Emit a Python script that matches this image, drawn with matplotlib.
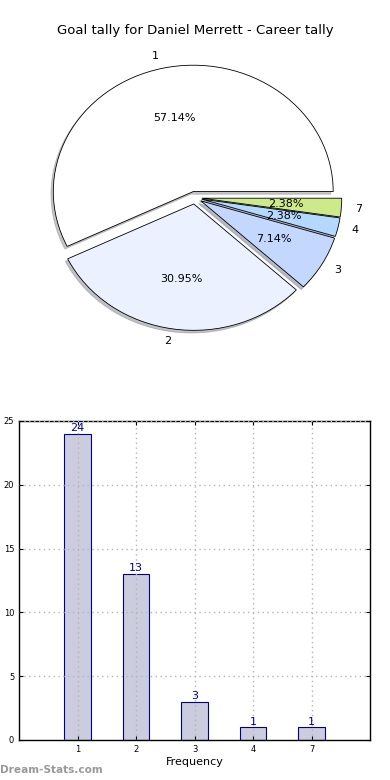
import matplotlib
matplotlib.use('Agg')
import matplotlib.pyplot as plt

# Goal tally data
categories = ['1', '2', '3', '4', '7']
counts = [24, 13, 3, 1, 1]
pie_colors = ['#ffffff', '#ebf1ff', '#c4d8ff', '#b4d8ff', '#cdea8a']

fig = plt.figure(figsize=(3.9, 7.8), dpi=100)

# Pie chart
ax1 = fig.add_axes([0.051, 0.544, 0.897, 0.405])
wedges, texts, autotexts = ax1.pie(
    counts,
    labels=categories,
    colors=pie_colors,
    explode=[0.05] * len(counts),
    autopct='%.2f%%',
    shadow={'ox': -0.012, 'oy': -0.015, 'shade': 0.45},
    startangle=0,
    wedgeprops={'edgecolor': 'black', 'linewidth': 0.6},
    textprops={'fontsize': 8},
)
ax1.set_aspect('auto')
ax1.set_xlim(-1.25, 1.25)
ax1.set_ylim(-1.25, 1.25)
fig.text(0.5, 0.961, 'Goal tally for Daniel Merrett - Career tally',
         ha='center', va='center', fontsize=9.5)

# Bar chart
ax2 = fig.add_axes([0.049, 0.0513, 0.9, 0.409])
x = list(range(1, len(categories) + 1))
bars = ax2.bar(x, counts, width=0.45, color='#ccccdf', edgecolor='#000080',
               linewidth=0.8)
for xi, c in zip(x, counts):
    ax2.text(xi, c + 0.05, str(c), ha='center', va='bottom',
             color='#0000aa', fontsize=8)
ax2.set_xlim(0, 6)
ax2.set_ylim(0, 25)
ax2.set_xticks(x)
ax2.set_xticklabels(categories)
ax2.tick_params(labelsize=6, direction='in', top=True, right=True, length=3)
ax2.grid(True, linestyle=(0, (1, 2.5)), color='#b4b4b4', linewidth=1)
ax2.set_axisbelow(False)
ax2.set_xlabel('Frequency', fontsize=8, labelpad=2)
ax2.set_ylabel('Goal Tally', fontsize=8, labelpad=4)
for s in ax2.spines.values():
    s.set_linewidth(1)

fig.text(0.0, 0.006, 'Dream-Stats.com', fontsize=7.6, color='#999999',
         fontweight='bold', ha='left', va='bottom')

fig.savefig('out.png', dpi=100)
